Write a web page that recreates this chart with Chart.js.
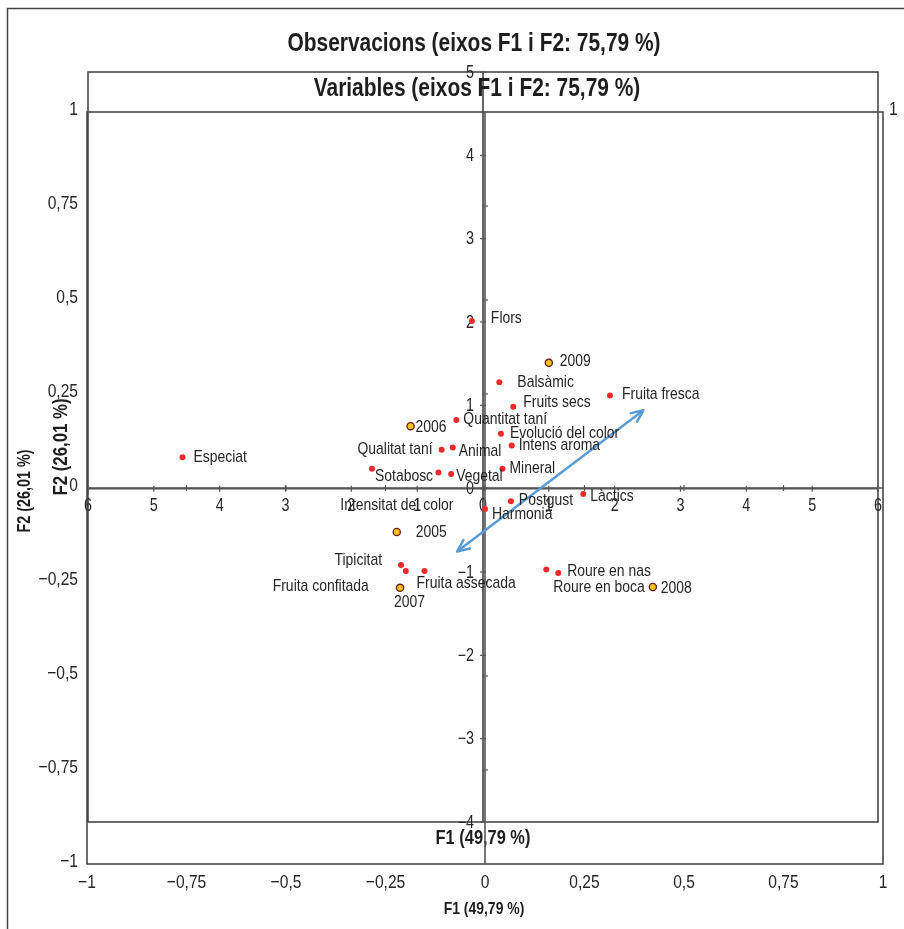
<!DOCTYPE html>
<html>
<head>
<meta charset="utf-8">
<script src="https://cdn.jsdelivr.net/npm/chart.js@4"></script>
<style>
  html, body { margin: 0; padding: 0; background: #ffffff; }
  #wrap { position: relative; width: 904px; height: 929px; }
  #wrap canvas { position: absolute; left: 0; top: 0; }
</style>
</head>
<body>
<div id="wrap">
  <canvas id="obs" width="904" height="929"></canvas>
  <canvas id="vars" width="904" height="929"></canvas>
</div>
<script>
// ---------------- DATA ----------------
const obsTitle = 'Observacions (eixos F1 i F2: 75,79 %)';
const varTitle = 'Variables (eixos F1 i F2: 75,79 %)';
const axisX = 'F1 (49,79 %)';
const axisY = 'F2 (26,01 %)';

const varNames = ['Flors','Especiat','Quantitat taní','Qualitat taní','Animal','Sotabosc','Intensitat del color','Vegetal','Balsàmic','Fruits secs','Fruita fresca','Evolució del color','Intens aroma','Mineral','Postgust','Làctics','Harmonia','Tipicitat','Fruita confitada','Fruita assecada','Roure en nas','Roure en boca'];
const varF1 = [-0.033,-0.760,-0.072,-0.109,-0.081,-0.284,-0.117,-0.085,0.036,0.071,0.314,0.040,0.067,0.044,0.065,0.247,0.000,-0.211,-0.199,-0.152,0.184,0.154];
const varF2 = [0.444,0.082,0.181,0.102,0.108,0.051,0.041,0.037,0.281,0.216,0.246,0.144,0.113,0.051,-0.035,-0.016,-0.056,-0.205,-0.221,-0.221,-0.226,-0.217];

const obsNames = ['2005','2006','2007','2008','2009'];
const obsF1 = [-1.31,-1.10,-1.26,2.58,1.00];
const obsF2 = [-0.52,0.75,-1.19,-1.18,1.51];

const arrowF1 = [-0.070, 0.398];
const arrowF2 = [-0.169, 0.207];

const varTicks = [-1,-0.75,-0.5,-0.25,0,0.25,0.5,0.75,1];
const varTickLabels = ['−1','−0,75','−0,5','−0,25','0','0,25','0,5','0,75','1'];
const obsXTicks = [-6,-5,-4,-3,-2,-1,0,1,2,3,4,5,6];
const obsXTickLabels = ['6','5','4','3','2','1','0','1','2','3','4','5','6'];
const obsYTicks = [-4,-3,-2,-1,0,1,2,3,4,5];
const obsYTickLabels = ['−4','−3','−2','−1','0','1','2','3','4','5'];

// ---------------- LABEL PLACEMENT (style, px offsets from the point) ----------------
const varLabelPos = {
  'Flors':[19,-3,'left'], 'Especiat':[11,0,'left'], 'Quantitat taní':[7,-1,'left'],
  'Qualitat taní':[-9,0,'right'], 'Animal':[6,4,'left'], 'Sotabosc':[3,7,'left'],
  'Intensitat del color':[15,33,'right'], 'Vegetal':[5,2,'left'], 'Balsàmic':[18,0,'left'],
  'Fruits secs':[10,-4,'left'], 'Fruita fresca':[12,-1,'left'], 'Evolució del color':[9,-1,'left'],
  'Intens aroma':[7,0,'left'], 'Mineral':[7,-1,'left'], 'Postgust':[8,-1,'left'],
  'Làctics':[7,2,'left'], 'Harmonia':[7,5,'left'], 'Tipicitat':[-19,-5,'right'],
  'Fruita confitada':[-37,15,'right'], 'Fruita assecada':[-8,12,'left'],
  'Roure en nas':[9,-2,'left'], 'Roure en boca':[7,18,'left']
};
const obsLabelPos = {
  '2005':[19,0,'left'], '2006':[5,1,'left'], '2007':[-6,14,'left'], '2008':[8,1,'left'], '2009':[11,-2,'left']
};

// ---------------- FONT HELPERS ----------------
function fontAvail(name){
  const c = document.createElement('canvas').getContext('2d');
  const s = 'abcdefghijklmnopqrstuvwxyzW0,';
  c.font = '40px monospace'; const a = c.measureText(s).width;
  c.font = '40px "' + name + '", monospace'; const b = c.measureText(s).width;
  return Math.abs(a - b) > 0.5;
}
let FONT = { fam: '"Liberation Sans", Arial, sans-serif', sx: 0.82 };
if (fontAvail('Liberation Sans Narrow')) FONT = { fam: '"Liberation Sans Narrow", sans-serif', sx: 1 };

const TXT = '#262626';
const LINE = '#3c3c3c';

function txt(ctx, s, x, y, o) {
  ctx.save();
  ctx.translate(x, y);
  if (o.rot) ctx.rotate(o.rot);
  ctx.scale(FONT.sx, 1);
  ctx.font = (o.bold ? 'bold ' : '') + o.size + 'px ' + FONT.fam;
  ctx.textAlign = o.align || 'center';
  ctx.textBaseline = 'middle';
  ctx.fillStyle = o.color || TXT;
  ctx.fillText(s, 0, 0);
  ctx.restore();
}
function line(ctx, x1, y1, x2, y2, w, c) {
  ctx.beginPath(); ctx.moveTo(x1, y1); ctx.lineTo(x2, y2);
  ctx.lineWidth = w; ctx.strokeStyle = c; ctx.stroke();
}

// ---------------- OBSERVATIONS CHART (bottom canvas) ----------------
const obsPlugin = {
  id: 'obsDeco',
  beforeDatasetsDraw(chart) {
    const ctx = chart.ctx, a = chart.chartArea, sx = chart.scales.x, sy = chart.scales.y;
    ctx.save();
    // page frame
    ctx.lineWidth = 1.5; ctx.strokeStyle = '#444';
    ctx.beginPath(); ctx.moveTo(7.5, 940); ctx.lineTo(7.5, 8.5); ctx.lineTo(910, 8.5); ctx.stroke();
    // box
    ctx.lineWidth = 1.5; ctx.strokeStyle = LINE;
    ctx.strokeRect(a.left, a.top, a.right - a.left, a.bottom - a.top);
    const x0 = sx.getPixelForValue(0), y0 = sy.getPixelForValue(0);
    line(ctx, a.left, y0, a.right, y0, 1.8, '#555');
    line(ctx, x0, a.top, x0, a.bottom, 1.8, '#555');
    obsXTicks.forEach((v, i) => {
      const px = sx.getPixelForValue(v);
      line(ctx, px, y0 - 3, px, y0 + 3, 1.2, '#555');
      txt(ctx, obsXTickLabels[i], px, y0 + 18, { size: 17.5 });
    });
    obsYTicks.forEach((v, i) => {
      const py = sy.getPixelForValue(v);
      line(ctx, x0 - 3, py, x0 + 3, py, 1.2, '#555');
      txt(ctx, obsYTickLabels[i], x0 - 9, py + 1, { size: 17.5, align: 'right' });
    });
    txt(ctx, obsTitle, (a.left + a.right) / 2 - 9, 44, { size: 25.5, bold: true, color: '#1e1e1e' });
    txt(ctx, axisX, x0, 838, { size: 20, bold: true, color: '#1e1e1e' });
    txt(ctx, axisY, 61, 447, { size: 20.5, bold: true, color: '#1e1e1e', rot: -Math.PI / 2 });
    ctx.restore();
  },
  afterDatasetsDraw(chart) {
    const ctx = chart.ctx;
    const meta = chart.getDatasetMeta(0);
    meta.data.forEach((pt, i) => {
      const p = obsLabelPos[obsNames[i]];
      txt(ctx, obsNames[i], pt.x + p[0], pt.y + p[1], { size: 17, align: p[2] });
    });
  }
};

new Chart(document.getElementById('obs'), {
  type: 'scatter',
  data: {
    datasets: [{
      label: 'Observacions',
      data: obsF1.map((v, i) => ({ x: v, y: obsF2[i] })),
      pointRadius: 3.6,
      backgroundColor: '#f6c21c',
      borderColor: '#6b1b1b',
      borderWidth: 1.3
    }]
  },
  options: {
    responsive: false, animation: false, events: [],
    layout: { padding: { left: 88, right: 26, top: 72, bottom: 107 } },
    plugins: { legend: { display: false }, tooltip: { enabled: false }, title: { display: false } },
    scales: {
      x: { type: 'linear', min: -6, max: 6, display: false },
      y: { type: 'linear', min: -4, max: 5, display: false }
    }
  },
  plugins: [obsPlugin]
});

// ---------------- VARIABLES CHART (top canvas) ----------------
const varPlugin = {
  id: 'varDeco',
  beforeDatasetsDraw(chart) {
    const ctx = chart.ctx, a = chart.chartArea, sx = chart.scales.x, sy = chart.scales.y;
    ctx.save();
    ctx.lineWidth = 1.5; ctx.strokeStyle = LINE;
    ctx.strokeRect(a.left, a.top, a.right - a.left, a.bottom - a.top);
    const x0 = sx.getPixelForValue(0), y0 = sy.getPixelForValue(0);
    line(ctx, a.left, y0, a.right, y0, 1.6, '#555');
    line(ctx, x0, a.top, x0, a.bottom, 1.6, '#555');
    varTicks.forEach((v, i) => {
      const px = sx.getPixelForValue(v), py = sy.getPixelForValue(v);
      if (v !== -1 && v !== 1) {
        line(ctx, px, y0 - 3, px, y0 + 3, 1.2, '#555');
        line(ctx, x0 - 3, py, x0 + 3, py, 1.2, '#555');
      }
      txt(ctx, varTickLabels[i], px, a.bottom + 19, { size: 19 });
      txt(ctx, varTickLabels[i], a.left - 9, py - 2, { size: 19, align: 'right' });
    });
    txt(ctx, varTickLabels[varTickLabels.length - 1], a.right + 6, sy.getPixelForValue(1) - 2, { size: 19, align: 'left' });
    txt(ctx, varTitle, (a.left + a.right) / 2 - 8, 89, { size: 25.5, bold: true, color: '#1e1e1e' });
    txt(ctx, axisX, x0 - 1, 909, { size: 17, bold: true, color: '#1e1e1e' });
    txt(ctx, axisY, 25, 491, { size: 17.5, bold: true, color: '#1e1e1e', rot: -Math.PI / 2 });
    ctx.restore();
  },
  afterDatasetsDraw(chart) {
    const ctx = chart.ctx;
    // arrowheads on both ends of the arrow dataset
    const am = chart.getDatasetMeta(1).data;
    const heads = [[am[0], am[1]], [am[1], am[0]]];
    ctx.save();
    ctx.strokeStyle = '#5b9bd5'; ctx.lineWidth = 2.5; ctx.lineCap = 'round'; ctx.lineJoin = 'round';
    heads.forEach(([tip, from]) => {
      const ang = Math.atan2(tip.y - from.y, tip.x - from.x);
      const L = 13, w = 0.42;
      ctx.beginPath();
      ctx.moveTo(tip.x - L * Math.cos(ang - w), tip.y - L * Math.sin(ang - w));
      ctx.lineTo(tip.x, tip.y);
      ctx.lineTo(tip.x - L * Math.cos(ang + w), tip.y - L * Math.sin(ang + w));
      ctx.stroke();
    });
    ctx.restore();
    const meta = chart.getDatasetMeta(0);
    meta.data.forEach((pt, i) => {
      const p = varLabelPos[varNames[i]];
      txt(ctx, varNames[i], pt.x + p[0], pt.y + p[1], { size: 17, align: p[2] });
    });
  }
};

new Chart(document.getElementById('vars'), {
  type: 'scatter',
  data: {
    datasets: [{
      label: 'Variables',
      data: varF1.map((v, i) => ({ x: v, y: varF2[i] })),
      pointRadius: 3,
      backgroundColor: '#f02a2a',
      borderWidth: 0
    }, {
      type: 'line',
      label: 'arrow',
      data: arrowF1.map((v, i) => ({ x: v, y: arrowF2[i] })),
      borderColor: '#5b9bd5',
      borderWidth: 2.5,
      pointRadius: 0,
      fill: false,
      showLine: true
    }]
  },
  options: {
    responsive: false, animation: false, events: [],
    layout: { padding: { left: 87, right: 21, top: 112, bottom: 65 } },
    plugins: { legend: { display: false }, tooltip: { enabled: false }, title: { display: false } },
    scales: {
      x: { type: 'linear', min: -1, max: 1, display: false },
      y: { type: 'linear', min: -1, max: 1, display: false }
    }
  },
  plugins: [varPlugin]
});
</script>
</body>
</html>
